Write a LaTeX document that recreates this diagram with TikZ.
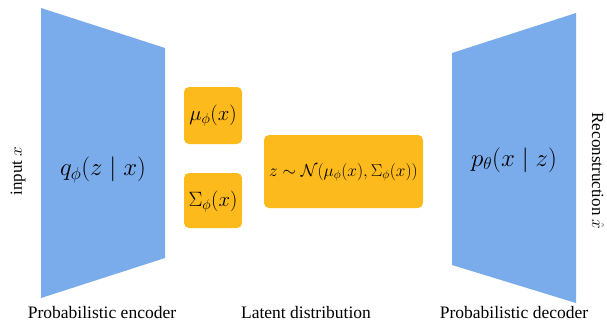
\documentclass[tikz,border=0pt]{standalone}
\usepackage{amsmath,amssymb}
\usepackage{fontspec}
\setmainfont{Liberation Serif}
\definecolor{netblue}{HTML}{7AABEA}
\definecolor{latorange}{HTML}{FDBA1C}
\begin{document}
\begin{tikzpicture}[x=1pt,y=-1pt,
  net/.style={fill=netblue,draw=none},
  latbox/.style={fill=latorange,draw=none,rounded corners=5pt},
  captext/.style={font=\fontsize{17.5}{20}\selectfont},
  sidetext/.style={font=\fontsize{17}{20}\selectfont}]
\useasboundingbox (0,0) rectangle (607,322);
% encoder
\fill[net] (41,8) -- (165,48) -- (165,258) -- (41,298) -- cycle;
\node (enc) at (103,170) {\fontsize{25}{30}\selectfont $q_\phi(z\mid x)$};
% decoder
\fill[net] (452,53) -- (576,13) -- (576,303) -- (452,265) -- cycle;
\node (dec) at (514,160) {\fontsize{25}{30}\selectfont $p_\theta(x\mid z)$};
% latent boxes
\fill[latbox] (184,87) rectangle (242,144);
\node (mu) at (213,116) {\fontsize{21}{24}\selectfont $\mu_\phi(x)$};
\fill[latbox] (184,173) rectangle (242,228);
\node (sig) at (213,202) {\fontsize{21}{24}\selectfont $\Sigma_\phi(x)$};
\fill[latbox] (264,135) rectangle (423,208);
\node (z) at (343.5,172) {\fontsize{17}{20}\selectfont $z\sim\mathcal{N}(\mu_\phi(x),\Sigma_\phi(x))$};
% side labels
\node[sidetext,rotate=90] (inp) at (18,171) {input $x$};
\node[sidetext,rotate=-90] (rec) at (598,171) {Reconstruction $\hat{x}$};
% captions
\node[captext] (c1) at (102,313) {Probabilistic encoder};
\node[captext] (c2) at (306,313) {Latent distribution};
\node[captext] (c3) at (514,313) {Probabilistic decoder};
\end{tikzpicture}
\end{document}
